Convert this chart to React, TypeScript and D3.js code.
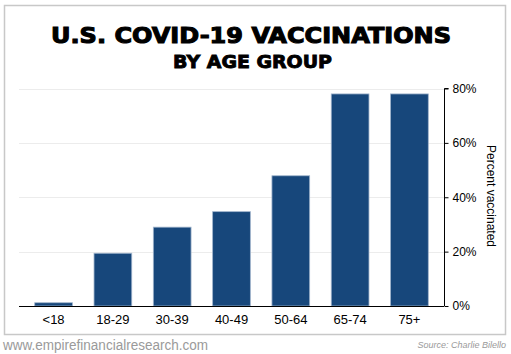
import React, { useEffect, useRef } from "react";
import * as d3 from "d3";

const ageGroups = ["<18", "18-29", "30-39", "40-49", "50-64", "65-74", "75+"];
const percentVaccinated = [1.2, 19.4, 29, 34.7, 47.9, 78, 78];
const yTicks = [0, 20, 40, 60, 80];

const W = 511;
const H = 354;

export default function App() {
  const ref = useRef<SVGSVGElement>(null);

  useEffect(() => {
    const svg = d3.select(ref.current);
    svg.selectAll("*").remove();

    // frame
    svg
      .append("rect")
      .attr("x", 4.5)
      .attr("y", 5.5)
      .attr("width", 501)
      .attr("height", 329)
      .attr("fill", "#fff")
      .attr("stroke", "#c8c8c8")
      .attr("stroke-width", 1.5);

    // titles
    svg
      .append("text")
      .text("U.S. COVID-19 VACCINATIONS")
      .attr("x", 251)
      .attr("y", 43)
      .attr("text-anchor", "middle")
      .attr("font-family", "DejaVu Sans")
      .attr("font-weight", 900)
      .attr("font-size", 22)
      .attr("textLength", 400)
      .attr("lengthAdjust", "spacingAndGlyphs")
      .attr("fill", "#000")
      .attr("stroke", "#000")
      .attr("stroke-width", 1.1);

    svg
      .append("text")
      .text("BY AGE GROUP")
      .attr("x", 252.5)
      .attr("y", 68)
      .attr("text-anchor", "middle")
      .attr("font-family", "DejaVu Sans")
      .attr("font-weight", 900)
      .attr("font-size", 18)
      .attr("textLength", 159)
      .attr("lengthAdjust", "spacingAndGlyphs")
      .attr("fill", "#000")
      .attr("stroke", "#000")
      .attr("stroke-width", 0.9);

    const x = d3
      .scaleBand()
      .domain(ageGroups)
      .range([19, 444])
      .paddingInner(0.364)
      .paddingOuter(0.265);

    const y = d3.scaleLinear().domain([0, 80]).range([306, 88.5]);

    // gridlines
    svg
      .append("g")
      .selectAll("line")
      .data(yTicks.slice(1))
      .enter()
      .append("line")
      .attr("x1", 19)
      .attr("x2", 444)
      .attr("y1", d => Math.round(y(d)) + 0.5)
      .attr("y2", d => Math.round(y(d)) + 0.5)
      .attr("stroke", "#ececec")
      .attr("stroke-width", 1);

    // bars
    svg
      .append("g")
      .selectAll("rect")
      .data(percentVaccinated)
      .enter()
      .append("rect")
      .attr("x", (d, i) => x(ageGroups[i])!)
      .attr("y", d => y(d))
      .attr("width", x.bandwidth())
      .attr("height", d => y(0) - y(d))
      .attr("fill", "#17477b")
      .attr("stroke", "#9fb3cb")
      .attr("stroke-width", 0.8);

    // right axis
    const yAxis = svg
      .append("g")
      .attr("transform", "translate(444.5,0)")
      .call(
        d3
          .axisRight(y)
          .tickValues(yTicks)
          .tickSize(4)
          .tickPadding(4)
          .tickFormat(d => `${d}%`)
      );
    yAxis.select(".domain").attr("stroke", "#000").attr("d", "M4,88.5H0V306");
    yAxis.selectAll(".tick line").attr("stroke", "#000");
    yAxis
      .selectAll(".tick text")
      .attr("font-family", "Liberation Sans, Arial, sans-serif")
      .attr("font-size", 12)
      .attr("fill", "#000");

    // bottom axis
    const xAxis = svg
      .append("g")
      .attr("transform", "translate(0,306.5)")
      .call(d3.axisBottom(x).tickSize(0).tickPadding(8));
    xAxis.select(".domain").attr("stroke", "#000").attr("d", "M19,0H444");
    xAxis
      .selectAll(".tick text")
      .attr("font-family", "Liberation Sans, Arial, sans-serif")
      .attr("font-size", 13)
      .attr("fill", "#000");

    // y axis title
    svg
      .append("text")
      .text("Percent vaccinated")
      .attr("transform", "translate(487,196) rotate(90)")
      .attr("text-anchor", "middle")
      .attr("font-family", "Liberation Sans, Arial, sans-serif")
      .attr("font-size", 12)
      .attr("fill", "#000");

    // footer
    svg
      .append("text")
      .text("www.empirefinancialresearch.com")
      .attr("x", 3)
      .attr("y", 350)
      .attr("font-family", "Liberation Sans, Arial, sans-serif")
      .attr("font-size", 14)
      .attr("textLength", 205)
      .attr("lengthAdjust", "spacingAndGlyphs")
      .attr("fill", "#9a9a9a");

    svg
      .append("text")
      .text("Source: Charlie Bilello")
      .attr("x", 506)
      .attr("y", 348)
      .attr("text-anchor", "end")
      .attr("font-family", "Liberation Sans, Arial, sans-serif")
      .attr("font-style", "italic")
      .attr("font-size", 9)
      .attr("fill", "#9a9a9a");
  }, []);

  return (
    <div style={{ position: "absolute", left: 0, top: 0 }}>
      <svg ref={ref} width={W} height={H} style={{ display: "block", background: "#fff" }} />
    </div>
  );
}
